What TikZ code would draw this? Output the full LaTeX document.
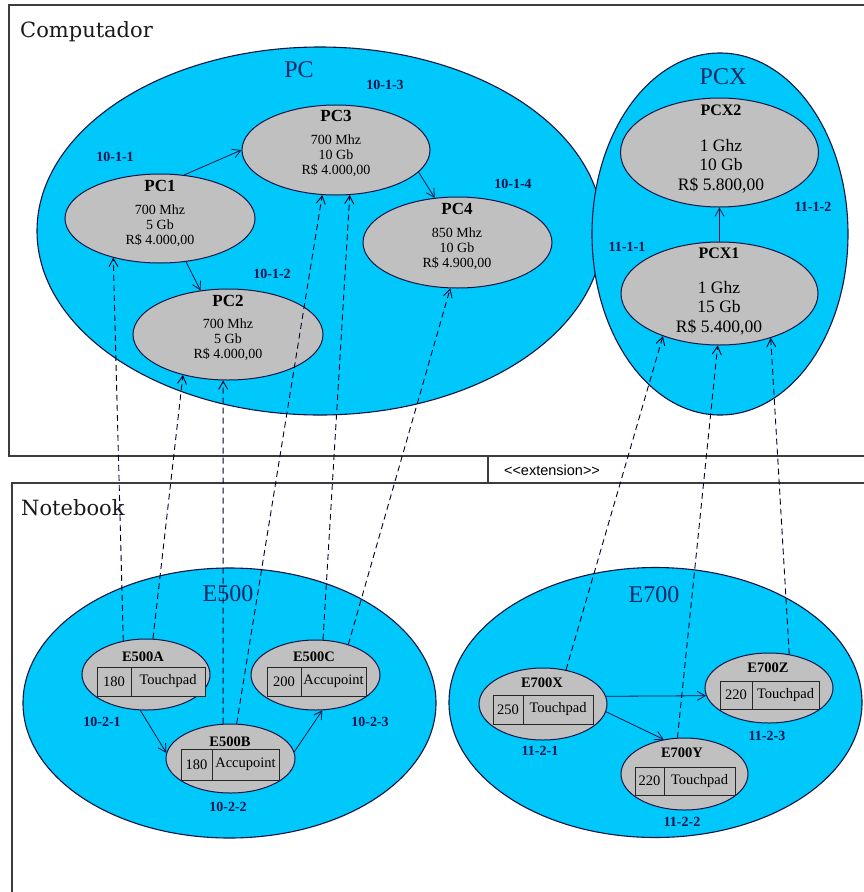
\documentclass[tikz,border=0pt]{standalone}
\usepackage{fontspec}
\usetikzlibrary{shapes.geometric,arrows.meta}
\newfontfamily\tms{Liberation Serif}
\newfontfamily\dvs{DejaVu Serif}
\newfontfamily\lsans{Liberation Sans}
\definecolor{cyanb}{RGB}{0,200,250}
\definecolor{grayf}{RGB}{192,192,192}
\definecolor{outl}{RGB}{10,20,70}
\definecolor{bigc}{RGB}{5,40,100}
\definecolor{stepc}{RGB}{0,20,80}
\definecolor{framec}{RGB}{60,60,60}
\tikzset{
  grp/.style={ellipse, draw=outl, fill=cyanb, line width=1.1pt, inner sep=0pt},
  item/.style={ellipse, draw=outl, fill=grayf, line width=1pt, inner sep=0pt},
  cell/.style={rectangle, draw=black!85, fill=grayf, line width=0.9pt, inner sep=0pt, minimum height=29pt, font=\tms\fontsize{14.5}{16}\selectfont},
  bigl/.style={inner sep=0pt, text=bigc, font=\tms\fontsize{24}{26}\selectfont},
  ttl/.style={inner sep=0pt, text=black, font=\tms\bfseries\fontsize{17}{19}\selectfont},
  ettl/.style={inner sep=0pt, text=black, font=\tms\bfseries\fontsize{14.5}{16}\selectfont},
  det/.style={inner sep=0pt, align=center, text=black, font=\tms\fontsize{14}{15.2}\selectfont},
  detx/.style={inner sep=0pt, align=center, text=black, font=\tms\fontsize{17.5}{19.5}\selectfont},
  stp/.style={inner sep=0pt, text=stepc, font=\tms\bfseries\fontsize{14}{16}\selectfont},
  frm/.style={inner sep=0pt, text=black!90, font=\dvs\fontsize{21}{23}\selectfont, anchor=base west},
  solidarr/.style={draw=outl, line width=0.8pt, -{Straight Barb[length=8pt,width=9pt]}},
  dep/.style={draw=black!85!blue, line width=0.9pt, dash pattern=on 6pt off 4pt, -{Straight Barb[length=8pt,width=9pt]}},
  frameline/.style={draw=framec, line width=1.2pt}
}
\begin{document}
\begin{tikzpicture}[x=1pt,y=-1pt]
\useasboundingbox[fill=white] (0,0) rectangle (864,892);

% frames
\draw[frameline] (864,5) -- (9,5) -- (9,456) -- (864,456);
\draw[frameline] (488,456) -- (488,483);
\draw[frameline] (864,483) -- (12,483) -- (12,892);
\node[frm] (tcomp) at (20,37.5) {Computador};
\node[frm] (tnote) at (21,515) {Notebook};
\node[inner sep=0pt, font=\lsans\fontsize{14.5}{16}\selectfont] (ext) at (552,470) {<<extension>>};

% group ellipses
\node[grp, minimum width=566pt, minimum height=368pt] (gPC) at (320,231) {};
\node[grp, minimum width=256pt, minimum height=362pt] (gPCX) at (720,234) {};
\node[grp, minimum width=413pt, minimum height=270pt] (gE500) at (229.5,703) {};
\node[grp, minimum width=413pt, minimum height=270pt] (gE700) at (655.5,702.5) {};

\node[bigl] (lPC) at (299,70) {PC};
\node[bigl] (lPCX) at (723,77) {PCX};
\node[bigl] (lE500) at (228,594) {E500};
\node[bigl] (lE700) at (654,595) {E700};

% PC items
\node[item, minimum width=190pt, minimum height=89pt] (PC1) at (160,218.5) {};
\node[item, minimum width=190pt, minimum height=91pt] (PC2) at (228,334.5) {};
\node[item, minimum width=188pt, minimum height=90pt] (PC3) at (336,150) {};
\node[item, minimum width=189pt, minimum height=91pt] (PC4) at (457.5,242.5) {};
\node[item, minimum width=198pt, minimum height=109pt] (PCX2) at (719.5,152.5) {};
\node[item, minimum width=197pt, minimum height=103pt] (PCX1) at (719.5,293.5) {};

\node[ttl] (tPC1) at (160,186) {PC1};
\node[det] (dPC1) at (160,226) {700 Mhz\\5 Gb\\R\$ 4.000,00};
\node[ttl] (tPC2) at (228,301) {PC2};
\node[det] (dPC2) at (228,340) {700 Mhz\\5 Gb\\R\$ 4.000,00};
\node[ttl] (tPC3) at (336,116) {PC3};
\node[det] (dPC3) at (336,156) {700 Mhz\\10 Gb\\R\$ 4.000,00};
\node[ttl] (tPC4) at (457,209) {PC4};
\node[det] (dPC4) at (457,249) {850 Mhz\\10 Gb\\R\$ 4.900,00};
\node[ettl, font=\tms\bfseries\fontsize{16}{18}\selectfont] (tPCX2) at (721,110) {PCX2};
\node[detx] (dPCX2) at (721,166) {1 Ghz\\10 Gb\\R\$ 5.800,00};
\node[ettl, font=\tms\bfseries\fontsize{16}{18}\selectfont] (tPCX1) at (719,253) {PCX1};
\node[detx] (dPCX1) at (719,308) {1 Ghz\\15 Gb\\R\$ 5.400,00};

% Notebook items
\node[item, minimum width=128pt, minimum height=71pt] (E500A) at (146,674.5) {};
\node[item, minimum width=129pt, minimum height=69pt] (E500B) at (230.5,758.5) {};
\node[item, minimum width=129pt, minimum height=70pt] (E500C) at (315.5,675) {};
\node[item, minimum width=128pt, minimum height=72pt] (E700X) at (543,704) {};
\node[item, minimum width=127pt, minimum height=72pt] (E700Y) at (684.5,774) {};
\node[item, minimum width=128pt, minimum height=70pt] (E700Z) at (769,688) {};

\node[ettl] (tE500A) at (143,657) {E500A};
\node[cell, minimum width=34pt] (cE500Aa) at (114,681.5) {180};
\node[cell, minimum width=74pt] (cE500Ab) at (168,681.5) {Touchpad};
\node[ettl] (tE500C) at (314,657) {E500C};
\node[cell, minimum width=34pt] (cE500Ca) at (284,681.5) {200};
\node[cell, minimum width=65pt] (cE500Cb) at (333.5,681.5) {Accupoint};
\node[ettl] (tE500B) at (230,742) {E500B};
\node[cell, minimum width=31pt, minimum height=31pt] (cE500Ba) at (196.5,764.5) {180};
\node[cell, minimum width=67pt, minimum height=31pt] (cE500Bb) at (245.5,764.5) {Accupoint};

\node[ettl] (tE700X) at (542,683) {E700X};
\node[cell, minimum width=30pt] (cE700Xa) at (508,709.5) {250};
\node[cell, minimum width=70pt] (cE700Xb) at (558,709.5) {Touchpad};
\node[ettl] (tE700Z) at (768,668) {E700Z};
\node[cell, minimum width=32pt, minimum height=28pt] (cE700Za) at (736,695) {220};
\node[cell, minimum width=67pt, minimum height=28pt] (cE700Zb) at (785.5,695) {Touchpad};
\node[ettl] (tE700Y) at (682,753) {E700Y};
\node[cell, minimum width=29pt, minimum height=28pt] (cE700Ya) at (649.5,781) {220};
\node[cell, minimum width=71pt, minimum height=28pt] (cE700Yb) at (699.5,781) {Touchpad};

% step labels
\node[stp] (s1011) at (115,157) {10-1-1};
\node[stp] (s1012) at (272,274) {10-1-2};
\node[stp] (s1013) at (385,85) {10-1-3};
\node[stp] (s1014) at (513,184) {10-1-4};
\node[stp] (s1111) at (627,247) {11-1-1};
\node[stp] (s1112) at (813,207) {11-1-2};
\node[stp] (s1021) at (102,722) {10-2-1};
\node[stp] (s1022) at (228,807) {10-2-2};
\node[stp] (s1023) at (370,722) {10-2-3};
\node[stp] (s1121) at (540,751) {11-2-1};
\node[stp] (s1122) at (682,822) {11-2-2};
\node[stp] (s1123) at (767,736) {11-2-3};

% solid arrows
\draw[solidarr] (PC1.61) -- (PC3.180);
\draw[solidarr] (PC1.301) -- (PC2.122);
\draw[solidarr] (PC3.345) -- (PC4.117);
\draw[solidarr] (PCX1.north) -- (PCX2.south);
\draw[solidarr] (E500A.261) -- (E500B.175);
\draw[solidarr] (E500B.6) -- (E500C.281);
\draw[solidarr] (E700X.7) -- (E700Z.187);
\draw[solidarr] (E700X.353) -- (E700Y.121);

% dependencies
\draw[dep] (E500A.124) -- (PC1.220);
\draw[dep] (E500A.79) -- (PC2.222);
\draw[dep] (E500B.102) -- (PC2.264);
\draw[dep] (E500B.80) -- (PC3.253);
\draw[dep] (E500C.78) -- (PC3.287);
\draw[dep] (E500C.43) -- (PC4.261);
\draw[dep] (E700X.56) -- (PCX1.217);
\draw[dep] (E700Y.101) -- (PCX1.268);
\draw[dep] (E700Z.59) -- (PCX1.319);
\end{tikzpicture}
\end{document}
